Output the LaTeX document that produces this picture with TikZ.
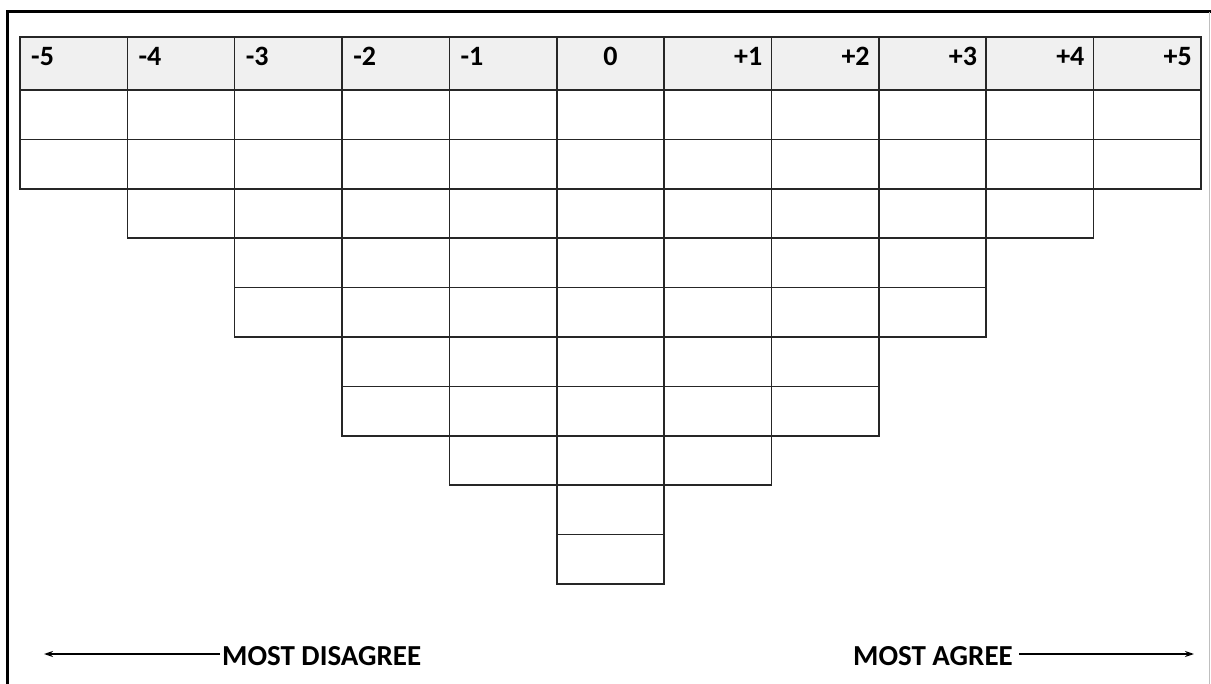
\documentclass[tikz,border=0pt]{standalone}
\usepackage{fontspec}
\setmainfont{Carlito}
\usepackage{xcolor}
\usetikzlibrary{positioning,arrows.meta}
\definecolor{headgray}{HTML}{F0F0F0}

\begin{document}
\begin{tikzpicture}[x=1pt,y=-1pt, >={Stealth[length=9pt,width=6pt]},
  grid/.style={draw=black!85,line width=1.5pt},
  head/.style={inner sep=0pt,font=\fontsize{28}{32}\selectfont\bfseries},
  tag/.style={inner sep=0pt,font=\fontsize{29}{33}\selectfont\bfseries},
  pointer/.style={->,line width=1.5pt}]
\useasboundingbox (0,0) rectangle (1211,684);
% frame of the page
\draw[line width=3pt] (7,684) -- (7,12) -- (1211,12);
\draw[black!25,line width=1pt] (1209,12) -- (1209,684);
% header row
\fill[headgray] (20,37) rectangle (1201,90);
\foreach \lab [count=\i from 0] in {-5,-4,-3,-2,-1}
  \node[head,anchor=base west] (h\i) at ({20+\i*107.36+11},66) {\lab};
\node[head,anchor=base] (h5) at ({20+5.5*107.36},66) {0};
\foreach \lab [count=\i from 6] in {+1,+2,+3,+4,+5}
  \node[head,anchor=base east] (h\i) at ({20+(\i+1)*107.36-9},66) {\lab};
\foreach \i in {0,...,10}
  \draw[grid] ({20+\i*107.36},37) rectangle ({20+(\i+1)*107.36},90);
% columns of empty cells
\foreach \n [count=\i from 0] in {2,3,5,7,8,10,8,7,5,3,2}
  \foreach \r in {1,...,\n}
    \draw[grid] ({20+\i*107.36},{90+(\r-1)*49.4}) rectangle ({20+(\i+1)*107.36},{90+\r*49.4});
% scale ends
\node[tag,anchor=base west] (dis) at (222,665) {MOST DISAGREE};
\node[tag,anchor=base east] (agr) at (1013,665) {MOST AGREE};
\coordinate (lend) at (44,654);
\coordinate (rend) at (1194,654);
\draw[pointer] (dis.west |- lend) ++(-2,0) -- (lend);
\draw[pointer] (agr.east |- rend) ++(6,0) -- (rend);
\end{tikzpicture}
\end{document}
